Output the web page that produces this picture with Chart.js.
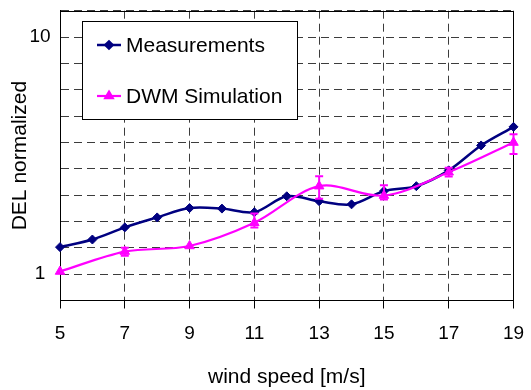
<!DOCTYPE html>
<html>
<head>
<meta charset="utf-8">
<script src="https://cdn.jsdelivr.net/npm/chart.js@4/dist/chart.umd.min.js"></script>
<style>
  html, body { margin: 0; padding: 0; background: #ffffff; }
  #wrap { position: relative; width: 531px; height: 390px; }
</style>
</head>
<body>
<div id="wrap"><canvas id="c" width="531" height="390"></canvas></div>
<script>
// ---- data ----
const windSpeed = [5, 6, 7, 8, 9, 10, 11, 12, 13, 14, 15, 16, 17, 18, 19];
const measurements = [1.30, 1.40, 1.575, 1.735, 1.90, 1.89, 1.825, 2.13, 2.03, 1.97, 2.24, 2.35, 2.74, 3.49, 4.18];
const simSpeed = [5, 7, 9, 11, 13, 15, 17, 19];
const dwmSimulation = [1.026, 1.245, 1.315, 1.647, 2.35, 2.145, 2.69, 3.59];
const dwmLow  = [1.026, 1.196, 1.315, 1.575, 2.078, 2.064, 2.58, 3.21];
const dwmHigh = [1.026, 1.292, 1.315, 1.803, 2.585, 2.37, 2.81, 3.895];
const seriesNames = ['Measurements', 'DWM Simulation'];
const xTickValues = [5, 7, 9, 11, 13, 15, 17, 19];
const yTickValues = [1, 10];
const yTickLabels = ['1', '10'];
const yGridPerDecade = 9;
const yGridRange = [-1, 10]; // in steps of 1/9 decade
const xTitle = 'wind speed [m/s]';
const yTitle = 'DEL normalized';

const FONT = 'Liberation Sans, Arial, sans-serif';
const NAVY = '#000080';
const MAGENTA = '#FF00FF';

const yGridValues = [];
for (let k = yGridRange[0]; k <= yGridRange[1]; k++) yGridValues.push(Math.pow(10, k / yGridPerDecade));

const frame = {
  id: 'frame',
  beforeDatasetsDraw(chart) {
    const {ctx, chartArea: a} = chart;
    ctx.save();
    ctx.strokeStyle = '#000';
    ctx.lineWidth = 1;
    ctx.setLineDash([]);
    const l = Math.round(a.left) + 0.5, t = Math.round(a.top) + 0.5;
    const r = Math.round(a.right) - 0.5, b = Math.round(a.bottom) - 0.5;
    ctx.strokeRect(l, t, r - l, b - t);
    ctx.restore();
  }
};

const errorBars = {
  id: 'errorBars',
  afterDatasetsDraw(chart) {
    const {ctx} = chart;
    const xs = chart.scales.x, ys = chart.scales.y;
    ctx.save();
    ctx.strokeStyle = MAGENTA;
    ctx.lineWidth = 2;
    ctx.setLineDash([]);
    simSpeed.forEach((s, i) => {
      if (dwmHigh[i] === dwmLow[i]) return;
      const x = xs.getPixelForValue(s);
      const y1 = ys.getPixelForValue(dwmLow[i]);
      const y2 = ys.getPixelForValue(dwmHigh[i]);
      ctx.beginPath();
      ctx.moveTo(x, y1); ctx.lineTo(x, y2);
      ctx.moveTo(x - 4, y1); ctx.lineTo(x + 4, y1);
      ctx.moveTo(x - 4, y2); ctx.lineTo(x + 4, y2);
      ctx.stroke();
    });
    ctx.restore();
  }
};

const boxLegend = {
  id: 'boxLegend',
  afterDraw(chart) {
    const {ctx} = chart;
    const bx = 82, by = 21, bw = 215, bh = 98;
    ctx.save();
    ctx.fillStyle = '#fff';
    ctx.fillRect(bx, by, bw, bh);
    ctx.strokeStyle = '#000';
    ctx.lineWidth = 1;
    ctx.setLineDash([]);
    ctx.strokeRect(bx + 0.5, by + 0.5, bw, bh);
    const rows = [45, 96];
    chart.data.datasets.slice().sort((a, b) => a.legendIndex - b.legendIndex).forEach((ds, i) => {
      const y = rows[i];
      ctx.strokeStyle = ds.borderColor;
      ctx.lineWidth = ds.borderWidth;
      ctx.beginPath();
      ctx.moveTo(97, y); ctx.lineTo(121, y);
      ctx.stroke();
      ctx.fillStyle = ds.pointBackgroundColor;
      Chart.helpers.drawPoint(ctx, {
        pointStyle: ds.pointStyle, radius: ds.pointRadius * 0.8, rotation: 0, borderWidth: 1
      }, 109, y);
      ctx.fillStyle = '#000';
      ctx.font = '21px ' + FONT;
      ctx.textAlign = 'left';
      ctx.textBaseline = 'middle';
      ctx.fillText(ds.label, 126, y + 1);
    });
    ctx.restore();
  }
};

new Chart(document.getElementById('c'), {
  type: 'line',
  data: {
    datasets: [
      {
        label: seriesNames[0],
        legendIndex: 0,
        data: windSpeed.map((x, i) => ({x, y: measurements[i]})),
        borderColor: NAVY,
        backgroundColor: NAVY,
        pointBackgroundColor: NAVY,
        pointBorderColor: NAVY,
        borderWidth: 2.5,
        pointStyle: 'rectRot',
        pointRadius: 4.5,
        pointBorderWidth: 1,
        tension: 0.33,
        clip: false,
        order: 1
      },
      {
        label: seriesNames[1],
        legendIndex: 1,
        data: simSpeed.map((x, i) => ({x, y: dwmSimulation[i]})),
        borderColor: MAGENTA,
        backgroundColor: MAGENTA,
        pointBackgroundColor: MAGENTA,
        pointBorderColor: MAGENTA,
        borderWidth: 2.2,
        pointStyle: 'triangle',
        pointRadius: 5.5,
        pointBorderWidth: 1,
        tension: 0.33,
        clip: false,
        order: 0
      }
    ]
  },
  options: {
    responsive: false,
    animation: false,
    devicePixelRatio: 1,
    layout: { padding: { top: 10.7, right: 17.5, left: 0, bottom: 0 } },
    plugins: {
      legend: { display: false },
      tooltip: { enabled: false }
    },
    scales: {
      x: {
        type: 'linear',
        min: 5, max: 19,
        afterBuildTicks: (s) => { s.ticks = xTickValues.map(v => ({value: v})); },
        afterFit: (s) => { s.height = 89.5; },
        ticks: {
          color: '#000',
          font: { family: FONT, size: 19, lineHeight: 2.62 },
          padding: 0,
          maxRotation: 0,
          autoSkip: false
        },
        grid: {
          color: '#3c3c3c',
          lineWidth: 1,
          drawTicks: true,
          tickLength: 8,
          tickColor: '#000',
          tickBorderDash: []
        },
        border: { display: true, color: '#000', width: 1, dash: [8, 5] },
        title: {
          display: true,
          text: xTitle,
          color: '#000',
          font: { family: FONT, size: 21 },
          padding: { top: 0, bottom: 0 }
        }
      },
      y: {
        type: 'logarithmic',
        min: yGridValues[0],
        max: yGridValues[yGridValues.length - 1],
        afterBuildTicks: (s) => { s.ticks = yGridValues.map(v => ({value: v})); },
        afterFit: (s) => { s.width = 60; },
        ticks: {
          color: '#000',
          font: { family: FONT, size: 19, lineHeight: 1.1 },
          padding: 0,
          crossAlign: 'center',
          autoSkip: false,
          callback: (v) => {
            const i = yTickValues.findIndex(t => Math.abs(t - v) < 1e-6 * t);
            return i >= 0 ? yTickLabels[i] : '';
          }
        },
        grid: {
          color: '#3c3c3c',
          lineWidth: 1,
          drawTicks: true,
          tickLength: 9.4,
          tickColor: 'rgba(0,0,0,0)',
          tickBorderDash: []
        },
        border: { display: true, color: '#000', width: 1, dash: [8, 5] },
        title: {
          display: true,
          text: yTitle,
          color: '#000',
          font: { family: FONT, size: 21 },
          padding: { top: 8, bottom: 0 }
        }
      }
    }
  },
  plugins: [frame, errorBars, boxLegend]
});
</script>
</body>
</html>
